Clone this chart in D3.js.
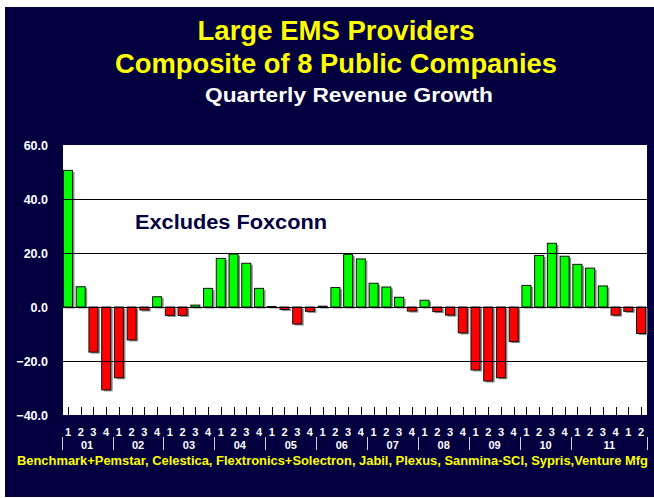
<!DOCTYPE html>
<html>
<head>
<meta charset="utf-8">
<script src="https://cdn.jsdelivr.net/npm/d3@7"></script>
<style>
  body { margin: 0; background: #fff; }
  svg { display: block; font-family: "Liberation Sans", Arial, sans-serif; }
</style>
</head>
<body>
<div id="chart"></div>
<script>
// quarterly revenue growth, % (Q1 2001 .. Q2 2012)
const quarterLabels = [
  "1","2","3","4", "1","2","3","4", "1","2","3","4", "1","2","3","4",
  "1","2","3","4", "1","2","3","4", "1","2","3","4", "1","2","3","4",
  "1","2","3","4", "1","2","3","4", "1","2","3","4", "1","2"
];
const growth = [
  50.6, 7.5, -16.7, -30.7,
  -26.2, -12.2, -1.1, 3.8,
  -3.1, -3.1, 0.7, 6.9,
  18.0, 19.6, 16.2, 6.9,
  0.2, -0.9, -6.3, -1.6,
  0.3, 7.2, 19.5, 17.8,
  8.8, 7.4, 3.6, -1.5,
  2.5, -1.7, -3.0, -9.6,
  -23.3, -27.4, -26.2, -12.8,
  8.0, 19.1, 23.6, 18.8,
  15.8, 14.4, 7.8, -3.0,
  -1.6, -9.8
];
const yearLabels = ["01","02","03","04","05","06","07","08","09","10","11"];
const yearSpans  = [4,4,4,4,4,4,4,4,4,4,6];
const yTicks = [60, 40, 20, 0, -20, -40];
const gridLines = [40, 20, 0, -20];

const W = 654, H = 498;
const navy = "#02003f";
const plot = {left: 63, right: 647, top: 145, bottom: 415};

const svg = d3.select("#chart").append("svg")
  .attr("width", W).attr("height", H);

// dark panel
svg.append("rect")
  .attr("x", 5).attr("y", 7)
  .attr("width", W - 5).attr("height", H - 8)
  .attr("fill", navy);

// titles
svg.append("text")
  .attr("x", 336).attr("y", 40)
  .attr("text-anchor", "middle")
  .attr("fill", "#ffff00")
  .style("font-size", "27px").style("font-weight", "bold")
  .attr("textLength", 277).attr("lengthAdjust", "spacingAndGlyphs")
  .text("Large EMS Providers");
svg.append("text")
  .attr("x", 336).attr("y", 73)
  .attr("text-anchor", "middle")
  .attr("fill", "#ffff00")
  .style("font-size", "27px").style("font-weight", "bold")
  .attr("textLength", 442).attr("lengthAdjust", "spacingAndGlyphs")
  .text("Composite of 8 Public Companies");
svg.append("text")
  .attr("x", 349).attr("y", 102)
  .attr("text-anchor", "middle")
  .attr("fill", "#ffffff")
  .style("font-size", "21px").style("font-weight", "bold")
  .attr("textLength", 288).attr("lengthAdjust", "spacingAndGlyphs")
  .text("Quarterly Revenue Growth");

// scales
const x = d3.scaleBand()
  .domain(d3.range(growth.length))
  .range([61.6, 647.4])
  .padding(0);
const y = d3.scaleLinear().domain([-40, 60]).range([plot.bottom, plot.top]);
const barW = 9;
const cx = i => x(i) + x.bandwidth() / 2;

// plot area
svg.append("rect")
  .attr("x", plot.left).attr("y", plot.top)
  .attr("width", plot.right - plot.left).attr("height", plot.bottom - plot.top)
  .attr("fill", "#ffffff");

// bar shadows
svg.append("g").selectAll("rect")
  .data(growth)
  .join("rect")
  .attr("x", (d, i) => cx(i) - barW / 2 + 2)
  .attr("y", d => Math.min(y(d), y(0)) + 1.5)
  .attr("width", barW)
  .attr("height", d => Math.abs(y(d) - y(0)))
  .attr("fill", "#8a8a8a");

// bars
svg.append("g").selectAll("rect")
  .data(growth)
  .join("rect")
  .attr("x", (d, i) => cx(i) - barW / 2)
  .attr("y", d => Math.min(y(d), y(0)))
  .attr("width", barW)
  .attr("height", d => Math.abs(y(d) - y(0)))
  .attr("fill", d => d >= 0 ? "#00ff00" : "#ff0000")
  .attr("stroke", "#111")
  .attr("stroke-width", 1);

// gridlines on top
svg.append("g").selectAll("line")
  .data(gridLines)
  .join("line")
  .attr("x1", plot.left).attr("x2", plot.right)
  .attr("y1", d => Math.round(y(d)) + 0.5).attr("y2", d => Math.round(y(d)) + 0.5)
  .attr("stroke", "#000").attr("stroke-width", 1);

// y labels
svg.append("g").selectAll("text")
  .data(yTicks)
  .join("text")
  .attr("x", 48).attr("y", d => y(d) + 5)
  .attr("text-anchor", "end")
  .attr("fill", "#fff")
  .style("font-size", "12.5px").style("font-weight", "bold")
  .text(d => d3.format(".1f")(d));

// category ticks
svg.append("g").selectAll("line")
  .data(growth)
  .join("line")
  .attr("x1", (d, i) => Math.round(cx(i)) + 0.5).attr("x2", (d, i) => Math.round(cx(i)) + 0.5)
  .attr("y1", plot.bottom - 8).attr("y2", plot.bottom)
  .attr("stroke", "#000").attr("stroke-width", 1);

// quarter labels
svg.append("g").selectAll("text")
  .data(quarterLabels)
  .join("text")
  .attr("x", (d, i) => cx(i)).attr("y", 436)
  .attr("text-anchor", "middle")
  .attr("fill", "#fff")
  .style("font-size", "11px").style("font-weight", "bold")
  .text(d => d);

// year groups
const starts = yearSpans.map((s, i) => d3.sum(yearSpans.slice(0, i)));
const bounds = starts.map(s => x(s)).concat([x(growth.length - 1) + x.bandwidth()]);
svg.append("g").selectAll("line")
  .data(bounds)
  .join("line")
  .attr("x1", d => Math.round(d) + 0.5).attr("x2", d => Math.round(d) + 0.5)
  .attr("y1", 437).attr("y2", 450)
  .attr("stroke", "#d0d0d8").attr("stroke-width", 1);
svg.append("g").selectAll("text")
  .data(yearLabels)
  .join("text")
  .attr("x", (d, i) => (bounds[i] + bounds[i + 1]) / 2).attr("y", 448.5)
  .attr("text-anchor", "middle")
  .attr("fill", "#fff")
  .style("font-size", "11px").style("font-weight", "bold")
  .text(d => d);

// annotation
svg.append("text")
  .attr("x", 231).attr("y", 229)
  .attr("text-anchor", "middle")
  .attr("fill", navy)
  .style("font-size", "20px").style("font-weight", "bold")
  .attr("textLength", 192).attr("lengthAdjust", "spacingAndGlyphs")
  .text("Excludes Foxconn");

// company list
svg.append("text")
  .attr("x", 17).attr("y", 465)
  .attr("fill", "#ffff00")
  .style("font-size", "13px").style("font-weight", "bold")
  .attr("textLength", 631).attr("lengthAdjust", "spacingAndGlyphs")
  .text("Benchmark+Pemstar, Celestica, Flextronics+Solectron, Jabil, Plexus, Sanmina-SCI, Sypris,Venture Mfg");
</script>
</body>
</html>
